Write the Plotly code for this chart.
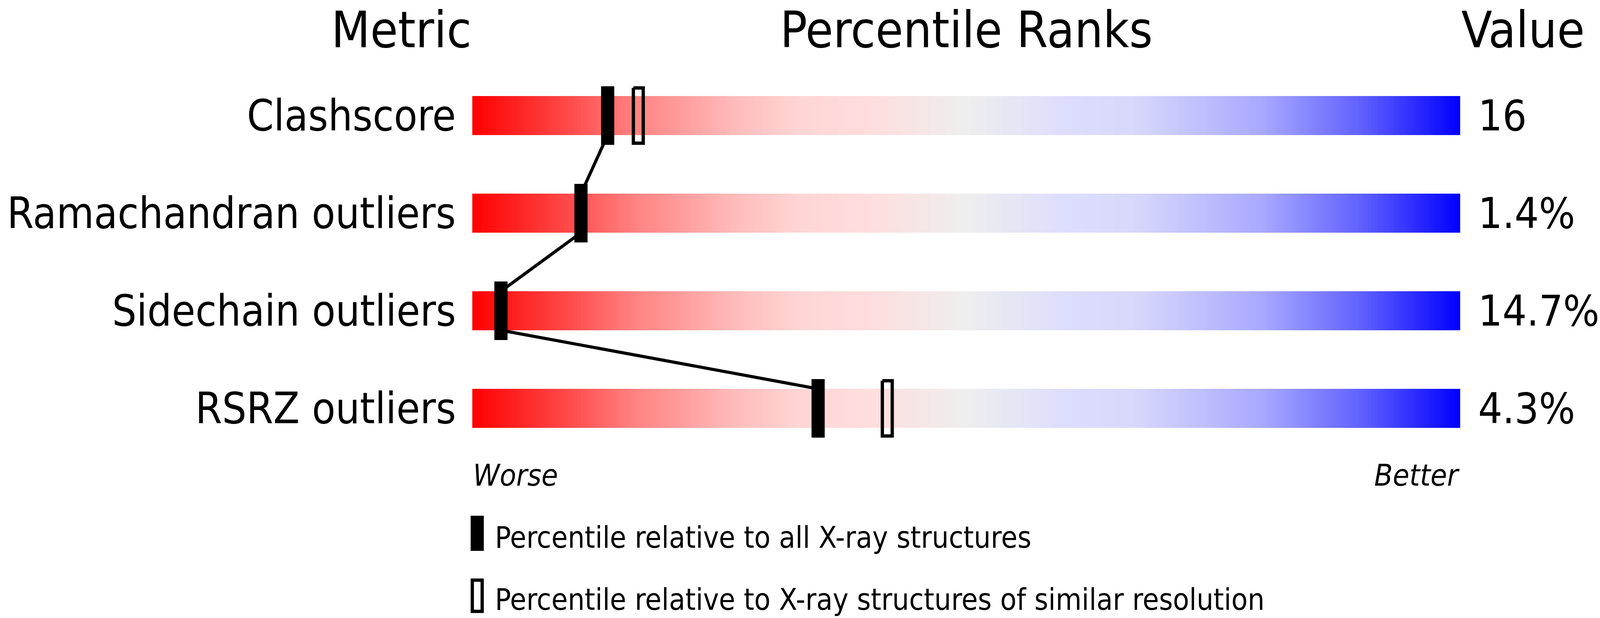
import numpy as np
import plotly.graph_objects as go

# wwPDB-style percentile slider chart
metrics = ["Clashscore", "Ramachandran outliers", "Sidechain outliers", "RSRZ outliers"]
values = ["16", "1.4%", "14.7%", "4.3%"]
pct_all = [13.7, 11.0, 2.9, 35.0]      # relative to all X-ray structures
pct_res = [16.8, None, None, 42.0]     # relative to similar resolution
headers = ["Metric", "Percentile Ranks", "Value"]
ends = ["Worse", "Better"]
legend_texts = ["Percentile relative to all X-ray structures",
                "Percentile relative to X-ray structures of similar resolution"]

# browser viewport is 4096x1583 css px, the photo is stretched to 4858 wide,
# so a condensed face at a slightly smaller size keeps the text proportions
FONT = "DejaVu Sans Condensed, DejaVu Sans"
W, H = 4096, 1583
S = W / 4858
FS = S / 0.9
BAR_H = 0.2      # half height of the gradient bars (row units)
MK_H = 0.3       # half height of the markers
MK_W = 40 / 30   # marker width in percentile units
INSET_X, INSET_Y = 5 / 30, 4.2 / 250

gradient = [
    [0.0, "#ff0000"], [0.1, "#ff4c4c"], [0.165, "#ff8282"], [0.264, "#ffbaba"],
    [0.33, "#ffd5d5"], [0.4, "#ffdddd"], [0.5, "#eeeeee"], [0.6, "#ddddfd"],
    [0.67, "#d8d8fc"], [0.8, "#a8a8ff"], [0.9, "#6060ff"], [1.0, "#0000ff"],
]

fig = go.Figure()

edges = np.linspace(0, 100, 301)
centers = (edges[:-1] + edges[1:]) / 2
for i, m in enumerate(metrics):
    fig.add_trace(go.Heatmap(
        x=edges, y=[i - BAR_H, i + BAR_H], z=[centers],
        colorscale=gradient, zmin=0, zmax=100, showscale=False,
        hoverinfo="skip",
    ))

# connecting line: bottom of a bar to the top of the next one
lx, ly = [], []
for i in range(len(metrics) - 1):
    lx += [pct_all[i], pct_all[i + 1], None]
    ly += [i + BAR_H, i + 1 - BAR_H, None]
fig.add_trace(go.Scatter(x=lx, y=ly, mode="lines", line=dict(color="black", width=8),
                         hoverinfo="skip", showlegend=False))

# filled markers
fx, fy = [], []
for i, p in enumerate(pct_all):
    fx += [p - MK_W / 2, p + MK_W / 2, p + MK_W / 2, p - MK_W / 2, p - MK_W / 2, None]
    fy += [i - MK_H, i - MK_H, i + MK_H, i + MK_H, i - MK_H, None]
fig.add_trace(go.Scatter(x=fx, y=fy, mode="lines", fill="toself", fillcolor="black",
                         line=dict(color="black", width=0), hoverinfo="skip", showlegend=False))

# hollow markers
hx, hy = [], []
for i, p in enumerate(pct_res):
    if p is None:
        continue
    x0, x1 = p - MK_W / 2 + INSET_X, p + MK_W / 2 - INSET_X
    y0, y1 = i - MK_H + INSET_Y, i + MK_H - INSET_Y
    hx += [x0, x1, x1, x0, x0, None]
    hy += [y0, y0, y1, y1, y0, None]
fig.add_trace(go.Scatter(x=hx, y=hy, mode="lines", line=dict(color="black", width=10 * S),
                         hoverinfo="skip", showlegend=False))

ann = []
# headers
for x, t, anc in zip([0, 50, 100], headers, ["right", "center", "left"]):
    ann.append(dict(x=x, y=-0.88, text=t, xanchor=anc, font=dict(size=137)))
# row labels and values
for i, (m, v) in enumerate(zip(metrics, values)):
    ann.append(dict(x=-1.6, y=i, text=m, xanchor="right", font=dict(size=117)))
    ann.append(dict(x=101.7, y=i, text=v, xanchor="left", font=dict(size=116)))
# worse / better
ann.append(dict(x=0, y=3.684, text="<i>%s</i>" % ends[0], xanchor="left", font=dict(size=82)))
ann.append(dict(x=100, y=3.684, text="<i>%s</i>" % ends[1], xanchor="right", font=dict(size=82)))
# legend texts
ann.append(dict(x=2.2, y=4.324, text=legend_texts[0], xanchor="left", font=dict(size=81)))
ann.append(dict(x=2.2, y=4.96, text=legend_texts[1], xanchor="left", font=dict(size=81)))
for a in ann:
    a.update(xref="x", yref="y", yanchor="middle", showarrow=False)
    a["font"].update(family=FONT, color="black", size=a["font"]["size"] * FS)

shapes = [
    dict(type="rect", xref="x", yref="y", x0=-1 / 6, x1=7 / 6, y0=4.1, y1=4.46,
         fillcolor="black", line=dict(width=0)),
    dict(type="rect", xref="x", yref="y", x0=0, x1=1, y0=4.76, y1=5.08,
         fillcolor="white", line=dict(color="black", width=10 * S)),
]

fig.update_layout(
    width=W, height=H,
    margin=dict(l=0, r=0, t=0, b=0),
    paper_bgcolor="white", plot_bgcolor="white",
    xaxis=dict(range=[-1434 / 30, (4858 - 1434) / 30], visible=False, fixedrange=True),
    yaxis=dict(range=[(1583 - 296) / 250, -296 / 250], visible=False, fixedrange=True),
    annotations=ann, shapes=shapes,
    showlegend=False,
)

fig.write_html("out.html", config={"displayModeBar": False},
               post_script="document.body.style.margin='0';")
